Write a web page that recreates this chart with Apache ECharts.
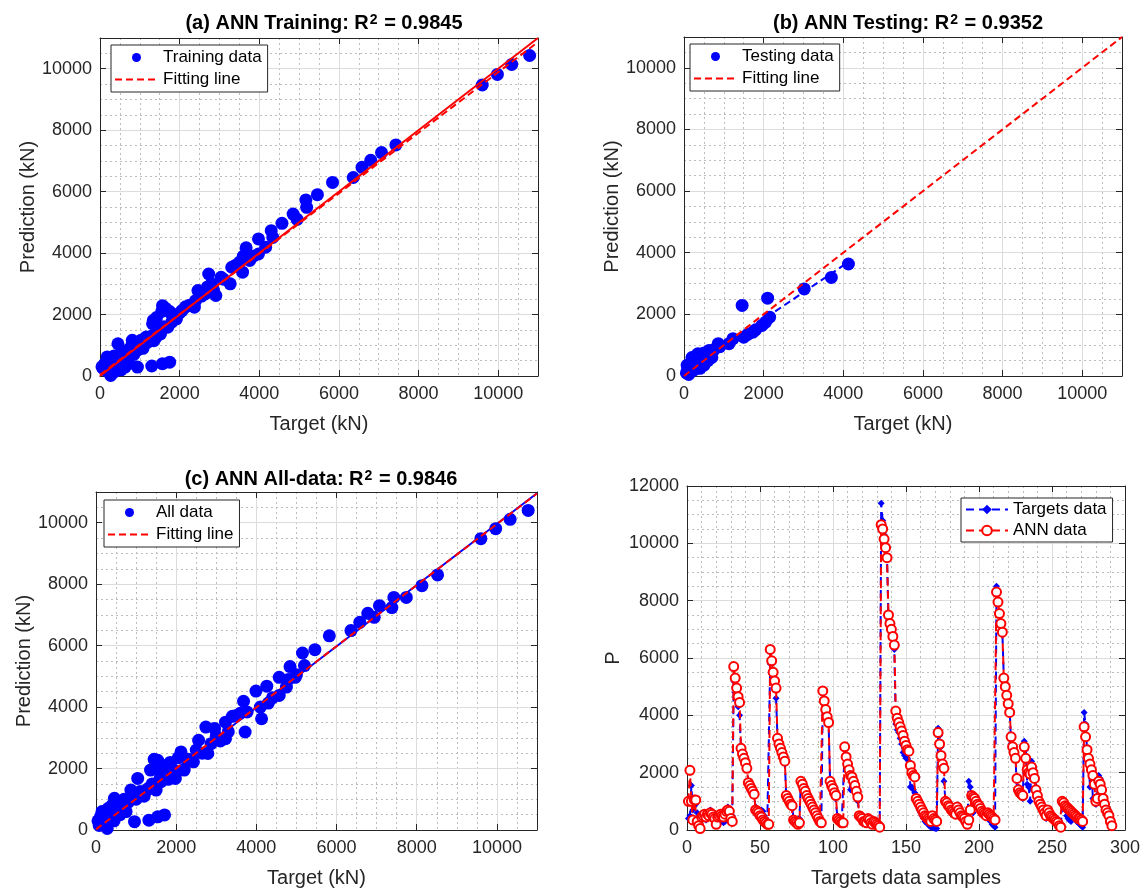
<!DOCTYPE html>
<html>
<head>
<meta charset="utf-8">
<script src="https://cdn.jsdelivr.net/npm/echarts/dist/echarts.min.js"></script>
<style>
  html, body { margin: 0; padding: 0; background: #fff; }
  #chart { width: 1147px; height: 893px; }
</style>
</head>
<body>
<div id="chart"></div>
<script>
// (a) training data: target vs prediction (kN)
const trainTarget = [
  50, 80, 90, 120, 150, 180, 200, 230, 250, 270,
  300, 320, 350, 380, 400, 420, 450, 480, 500, 530,
  560, 600, 630, 650, 700, 720, 750, 800, 810, 850,
  880, 900, 940, 950, 1000, 1030, 1080, 1100, 1160, 1200,
  1250, 1300, 1340, 1350, 1400, 1420, 1450, 1500, 1520, 1550,
  1570, 1600, 1650, 1700, 1750, 1790, 1800, 1850, 1920, 2000,
  2060, 2150, 2250, 2370, 2400, 2460, 2550, 2640, 2700, 2730,
  2800, 2850, 2910, 3040, 3100, 3270, 3310, 3400, 3500, 3580,
  3600, 3670, 3760, 3850, 3980, 3980, 4160, 4300, 4340, 4570,
  4850, 4950, 5170, 5190, 5460, 5840, 6360, 6580, 6800, 7070,
  7430, 9600, 9980, 10340, 10790, 1750, 1570, 1300, 180, 1320
]
const trainPred = [
  300, 250, 290, 400, 180, 620, 350, 600, 100, 20,
  450, 250, 650, 150, 500, 300, 1050, 700, 400, 200,
  600, 750, 290, 500, 850, 400, 650, 1000, 1160, 700,
  950, 1100, 290, 850, 1000, 1160, 900, 1150, 1270, 1100,
  1200, 1300, 1810, 1150, 1250, 1900, 1400, 1500, 1370, 2100,
  2290, 1600, 2200, 1590, 2100, 2020, 1750, 1900, 1860, 2050,
  2130, 2250, 2300, 2240, 2450, 2780, 2600, 2670, 2900, 3320,
  3000, 2800, 2620, 3210, 3150, 3000, 3540, 3600, 3700, 3380,
  3900, 4170, 3760, 3900, 3970, 4460, 4190, 4730, 4510, 4970,
  5270, 5100, 5730, 5490, 5900, 6300, 6460, 6790, 7020, 7270,
  7520, 9470, 9815, 10140, 10430, 450, 400, 325, 420, 1700
]

// (b) testing data
const testTarget = [
  4130, 3700, 3020, 2100, 1460, 2150, 1960, 2050, 1730, 1800,
  1500, 1600, 1230, 1130, 860, 900, 750, 630, 600, 550,
  500, 450, 400, 350, 300, 280, 250, 200, 180, 150,
  120, 100, 80, 60, 400, 500, 300, 450, 600, 650,
  700, 200, 350
]
const testPred = [
  3635, 3200, 2825, 2525, 2290, 1910, 1640, 1750, 1420, 1500,
  1260, 1350, 1210, 1050, 1050, 950, 850, 830, 650, 550,
  750, 400, 600, 720, 300, 500, 200, 400, 150, 300,
  50, 250, 350, 100, 250, 350, 650, 700, 500, 700,
  600, 600, 450
]

// (c) all data
const allTarget = [
  10780, 10330, 9970, 9600, 8520, 8130, 7740, 7430, 7380, 7070,
  6940, 6780, 6580, 6360, 5820, 5460, 5150, 5200, 4840, 4970,
  4570, 4750, 4260, 4570, 3990, 4300, 4130, 3680, 3770, 3720,
  3500, 3230, 3230, 2960, 2740, 2870, 2560, 2790, 2430, 2120,
  2200, 1980, 1540, 1760, 1360, 1040, 1620, 1270, 870, 460,
  1710, 1540, 1320, 960, 50, 80, 120, 150, 200, 250,
  280, 300, 350, 400, 450, 500, 550, 600, 650, 700,
  750, 800, 900, 1000, 1100, 1200, 1300, 1400, 1500, 1600,
  1700, 1800, 1900, 2000, 2300, 2500, 2650, 3000, 3100, 3400,
  1450, 1550, 1850, 2050, 3300, 3600, 4100, 4400, 4800, 5000
]
const allPred = [
  10400, 10110, 9805, 9480, 8300, 7950, 7570, 7570, 7240, 7300,
  6920, 7050, 6760, 6490, 6320, 5870, 5760, 5350, 5320, 4970,
  4970, 4650, 4680, 4380, 4520, 4130, 3620, 4190, 3840, 3190,
  3730, 3510, 2970, 3300, 3350, 2810, 2920, 2490, 2220, 2540,
  1950, 1680, 2270, 2110, 1950, 1680, 1570, 1300, 1300, 1030,
  490, 430, 320, 270, 300, 150, 450, 600, 250, 550,
  50, 700, 400, 800, 300, 600, 900, 500, 750, 1000,
  600, 900, 1100, 1000, 1250, 1100, 1350, 1500, 1300, 1700,
  1900, 1650, 2000, 1900, 2300, 2600, 2500, 3050, 2900, 3700,
  2300, 2000, 2200, 2350, 3200, 3800, 4000, 4300, 4900, 5050
]

// fitted / reference lines, [x0, y0, x1, y1]
const fitA = [0, 40, 11000, 10870]
const idealA = [0, 0, 11000, 11000]
const fitB = [0, 0, 11000, 11000]
const fitTestB = [0, 100, 4130, 3700]
const fitC = [0, 20, 11000, 10950]
const idealC = [0, 0, 11000, 10960]

// (d) targets and ANN output per sample (sample no. = index + 1)
const targets = [
  400, 500, 1550, 700, 1000, 900, 600, 300, 200, 500,
  450, 400, 350, 500, 650, 700, 600, 500, 400, 450,
  350, 300, 400, 300, 250, 300, 700, 800, 750, 600,
  500, 5200, 4800, 4600, 4300, 4000, 2800, 2700, 2500, 2300,
  2200, 1700, 1500, 1400, 1300, 1200, 800, 700, 650, 600,
  700, 650, 500, 400, 300, 250, 5800, 5500, 5200, 5100,
  4600, 3200, 2900, 2800, 2700, 2500, 2400, 1100, 1000, 900,
  850, 800, 400, 350, 250, 200, 400, 1700, 1600, 1500,
  1300, 1200, 1100, 1000, 900, 800, 700, 600, 500, 400,
  300, 200, 4550, 4400, 4200, 3900, 3700, 1700, 1550, 1450,
  1350, 1300, 500, 400, 350, 300, 300, 2800, 2600, 2400,
  2200, 1400, 1500, 1700, 1500, 1300, 1000, 500, 450, 400,
  350, 300, 300, 400, 350, 300, 250, 300, 250, 200,
  150, 100, 11400, 10800, 10300, 9800, 9500, 7300, 7100, 6800,
  6700, 6300, 3700, 3500, 3400, 3200, 3000, 2700, 2600, 2500,
  2500, 2400, 1500, 1500, 1400, 1300, 1000, 900, 700, 600,
  500, 400, 300, 250, 200, 150, 100, 100, 80, 50,
  50, 3550, 3300, 2900, 2400, 1700, 1000, 950, 900, 800,
  700, 600, 550, 500, 700, 600, 500, 450, 400, 350,
  300, 200, 1700, 1500, 1200, 600, 1100, 1000, 900, 800,
  700, 600, 550, 500, 450, 400, 350, 300, 200, 150,
  100, 8500, 8000, 7600, 7200, 6900, 5300, 5000, 4700, 4500,
  4200, 3000, 2900, 2700, 2500, 1400, 1500, 1300, 1200, 1100,
  3100, 2800, 1600, 1500, 1000, 2400, 2100, 1900, 1500, 1200,
  1000, 900, 800, 700, 500, 400, 600, 500, 450, 400,
  350, 300, 250, 200, 150, 100, 900, 800, 700, 500,
  400, 350, 300, 600, 500, 400, 300, 250, 200, 150,
  100, 4100, 3700, 2800, 2600, 1500, 2200, 1100, 1000, 900,
  1200, 1900, 1800, 1500, 1200, 900, 700, 600, 500, 300, 200
]
const annOut = [
  1000, 2080, 1000, 350, 1050, 1050, 300, 150, 50, 450,
  500, 550, 450, 550, 500, 600, 550, 450, 400, 200,
  450, 500, 550, 500, 450, 550, 650, 700, 650, 400,
  300, 5700, 5300, 4950, 4650, 4450, 2850, 2650, 2500, 2350,
  2150, 1650, 1550, 1450, 1350, 1250, 700, 650, 600, 500,
  450, 350, 300, 250, 200, 200, 6300, 5900, 5500, 5200,
  4950, 3200, 3000, 2850, 2700, 2550, 2400, 1200, 1100, 1000,
  900, 850, 350, 300, 250, 200, 250, 1700, 1600, 1450,
  1350, 1200, 1100, 1000, 900, 800, 700, 600, 500, 400,
  300, 250, 4850, 4500, 4200, 3950, 3750, 1700, 1550, 1450,
  1300, 1200, 400, 350, 300, 250, 250, 2900, 2550, 2300,
  2100, 1900, 1850, 1700, 1550, 1350, 1150, 500, 450, 400,
  300, 300, 250, 400, 350, 250, 200, 300, 250, 200,
  150, 100, 10650, 10500, 10150, 9850, 9500, 7500, 7200, 7000,
  6750, 6450, 4150, 3900, 3750, 3600, 3450, 3300, 3100, 2950,
  2800, 2750, 2250, 2000, 1900, 1850, 1100, 1000, 900, 800,
  700, 600, 500, 450, 400, 350, 300, 500, 400, 350,
  300, 3400, 3000, 2600, 2300, 2150, 1000, 950, 850, 800,
  700, 650, 600, 550, 800, 700, 600, 500, 450, 400,
  300, 200, 350, 700, 1200, 1150, 1100, 1000, 900, 850,
  750, 650, 600, 550, 500, 600, 550, 500, 450, 400,
  350, 8300, 7950, 7550, 7200, 6900, 5300, 5000, 4700, 4400,
  4100, 3250, 2900, 2700, 2500, 1800, 1400, 1300, 1250, 1200,
  2900, 2500, 2100, 2000, 1950, 2200, 2000, 1800, 1400, 1200,
  1000, 900, 800, 700, 600, 500, 700, 600, 500, 450,
  400, 350, 300, 250, 150, 100, 1000, 950, 850, 800,
  750, 700, 650, 600, 550, 500, 450, 400, 400, 350,
  300, 3600, 3250, 2800, 2500, 2300, 2100, 1900, 1600, 1000,
  1100, 1700, 1600, 1400, 1100, 900, 700, 600, 500, 300, 150
]

const FONT = '"Liberation Sans", Arial, Helvetica, sans-serif'
const INK = '#262626'
const BLUE = '#0000ff'
const RED = '#ff0000'

const pairs = (xs, ys) => xs.map((x, i) => [x, ys[i]])
const seg = s => [[s[0], s[1]], [s[2], s[3]]]

// three axes per side: main (labels + solid grid), minor dotted grid, opposite ticks
function axisSet (dim, gi, max, major, minor, name, nameGap, showMax) {
  const pos = dim === 'x' ? ['bottom', 'top'] : ['left', 'right']
  return [
    {
      type: 'value', gridIndex: gi, min: 0, max: max, interval: major, position: pos[0],
      name: name, nameLocation: 'middle', nameGap: nameGap,
      nameTextStyle: { fontSize: 20, color: INK, fontFamily: FONT },
      axisLine: { show: true, onZero: false, lineStyle: { color: INK, width: 1 } },
      axisTick: { show: true, inside: true, length: 6, lineStyle: { color: INK } },
      axisLabel: {
        fontSize: 18, color: INK, fontFamily: FONT, margin: dim === 'x' ? 9 : 8,
        showMaxLabel: showMax, formatter: v => String(v)
      },
      splitLine: { show: true, lineStyle: { color: '#dcdcdc', width: 1 } },
      z: 1
    },
    {
      type: 'value', gridIndex: gi, min: 0, max: max, interval: minor, position: pos[1],
      axisLine: { show: false }, axisTick: { show: false }, axisLabel: { show: false },
      splitLine: { show: true, lineStyle: { color: '#bdbdbd', width: 1, type: [2, 3] } },
      z: 0
    },
    {
      type: 'value', gridIndex: gi, min: 0, max: max, interval: major, position: pos[1],
      axisLine: { show: true, onZero: false, lineStyle: { color: INK, width: 1 } },
      axisTick: { show: true, inside: true, length: 6, lineStyle: { color: INK } },
      axisLabel: { show: false }, splitLine: { show: false },
      z: 1
    }
  ]
}

const xAxes = [].concat(
  axisSet('x', 0, 11000, 2000, 500, 'Target (kN)', 38, false),
  axisSet('x', 1, 11000, 2000, 500, 'Target (kN)', 38, false),
  axisSet('x', 2, 11000, 2000, 500, 'Target (kN)', 38, false),
  axisSet('x', 3, 300, 50, 10, 'Targets data samples', 38, true)
)
const yAxes = [].concat(
  axisSet('y', 0, 11000, 2000, 500, 'Prediction (kN)', 62, false),
  axisSet('y', 1, 11000, 2000, 500, 'Prediction (kN)', 62, false),
  axisSet('y', 2, 11000, 2000, 500, 'Prediction (kN)', 62, false),
  axisSet('y', 3, 12000, 2000, 500, 'P', 64, true)
)

function titleAt (text, cx, top) {
  return {
    text: text, left: cx, top: top, textAlign: 'center',
    textStyle: {
      fontSize: 20, fontWeight: 'bold', color: '#000', fontFamily: FONT,
      rich: { sup: { fontSize: 14, fontWeight: 'bold', color: '#000', fontFamily: FONT, verticalAlign: 'top', lineHeight: 12, padding: [0, 1, 0, 1] } }
    }
  }
}

function legendAt (left, top, names, extra) {
  return Object.assign({
    orient: 'vertical', left: left, top: top, data: names,
    itemWidth: 43, itemHeight: 9, itemGap: 5, padding: [4, 6, 4, 3],
    backgroundColor: '#fff', borderColor: INK, borderWidth: 1, borderRadius: 0,
    selectedMode: false,
    textStyle: { fontSize: 17, color: '#000', fontFamily: FONT }
  }, extra || {})
}

const fitEntry = { name: 'Fitting line', itemStyle: { opacity: 0 } }

function scatter (name, gi, data) {
  return {
    name: name, type: 'scatter', xAxisIndex: gi * 3, yAxisIndex: gi * 3,
    data: data, symbol: 'circle', symbolSize: 13,
    itemStyle: { color: BLUE, opacity: 1 }, z: 2
  }
}

function refLine (name, gi, s, color, dashed, z) {
  return {
    name: name, type: 'line', xAxisIndex: gi * 3, yAxisIndex: gi * 3,
    data: seg(s), symbol: 'none', showSymbol: false,
    lineStyle: { color: color, width: 2, type: dashed ? [7, 4] : 'solid' },
    itemStyle: { color: color }, z: z
  }
}

const chart = echarts.init(document.getElementById('chart'), null, { renderer: 'canvas' })

chart.setOption({
  backgroundColor: '#fff',
  animation: false,
  title: [
    titleAt('(a) ANN Training: R{sup|2} = 0.9845', 319, 8),
    titleAt('(b) ANN Testing: R{sup|2} = 0.9352', 903, 8),
    titleAt('(c) ANN All-data: R{sup|2} = 0.9846', 316, 464)
  ],
  grid: [
    { left: 100, top: 38, width: 438, height: 338 },
    { left: 684, top: 37, width: 438, height: 339 },
    { left: 96, top: 492, width: 441, height: 338 },
    { left: 687, top: 486, width: 438, height: 344 }
  ],
  legend: [
    legendAt(111, 45, ['Training data', fitEntry]),
    legendAt(690, 44, ['Testing data', fitEntry]),
    legendAt(104, 500, ['All data', fitEntry]),
    legendAt(961, 498, ['Targets data', 'ANN data'], { itemWidth: 42, itemHeight: 12, itemGap: 4, padding: [3, 6, 3, 4] })
  ],
  xAxis: xAxes,
  yAxis: yAxes,
  series: [
    scatter('Training data', 0, pairs(trainTarget, trainPred)),
    refLine('ideal a', 0, idealA, RED, false, 3),
    refLine('Fitting line', 0, fitA, RED, true, 4),

    scatter('Testing data', 1, pairs(testTarget, testPred)),
    refLine('test fit b', 1, fitTestB, BLUE, true, 3),
    refLine('Fitting line', 1, fitB, RED, true, 4),

    scatter('All data', 2, pairs(allTarget, allPred)),
    refLine('ideal c', 2, idealC, BLUE, false, 3),
    refLine('Fitting line', 2, fitC, RED, true, 4),

    {
      name: 'Targets data', type: 'line', xAxisIndex: 9, yAxisIndex: 9,
      data: targets.map((v, i) => [i + 1, v]),
      symbol: 'diamond', symbolSize: 7, showAllSymbol: true,
      lineStyle: { color: BLUE, width: 2, type: [8, 5] },
      itemStyle: { color: BLUE }, z: 2
    },
    {
      name: 'ANN data', type: 'line', xAxisIndex: 9, yAxisIndex: 9,
      data: annOut.map((v, i) => [i + 1, v]),
      symbol: 'emptyCircle', symbolSize: 9, showAllSymbol: true,
      lineStyle: { color: RED, width: 2, type: [8, 5] },
      itemStyle: { color: RED, borderWidth: 2 }, z: 3
    }
  ]
})
</script>
</body>
</html>
